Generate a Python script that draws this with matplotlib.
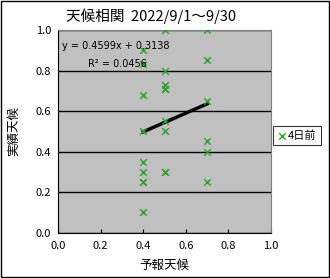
import matplotlib
matplotlib.use('Agg')
import matplotlib.pyplot as plt
import numpy as np

plt.rcParams['font.family'] = ['Noto Sans CJK JP', 'DejaVu Sans']

# 予報天候(4日前) と 実績天候
forecast = [0.4, 0.4, 0.4, 0.4, 0.4, 0.4, 0.4, 0.4, 0.4,
            0.5, 0.5, 0.5, 0.5, 0.5, 0.5, 0.5, 0.5, 0.5,
            0.7, 0.7, 0.7, 0.7, 0.7, 0.7]
actual = [0.9, 0.83, 0.68, 0.5, 0.35, 0.3, 0.25, 0.25, 0.1,
          1.0, 0.8, 0.73, 0.71, 0.71, 0.55, 0.5, 0.3, 0.3,
          1.0, 0.85, 0.65, 0.45, 0.4, 0.25]
slope, intercept = 0.4599, 0.3138
r2 = 0.0456
ticks = [0.0, 0.2, 0.4, 0.6, 0.8, 1.0]

fig = plt.figure(figsize=(3.3, 2.78), dpi=100)
ax = fig.add_axes([0.176, 0.163, 0.645, 0.729])
ax.set_facecolor('#C0C0C0')

ax.scatter(forecast, actual, marker='x', color='#2A9F2A', s=22, linewidths=1.0,
           zorder=3, label='4日前')

# 近似直線
xl = np.array([min(forecast), max(forecast)])
ax.plot(xl, slope * xl + intercept, color='black', lw=2.5, zorder=2)

ax.text(0.02, 0.92, 'y = %.4fx + %.4f' % (slope, intercept),
        fontsize=7, family='Liberation Sans Narrow', va='center')
ax.text(0.14, 0.83, 'R² = %.4f' % r2, fontsize=7,
        family='Liberation Sans Narrow', va='center')

ax.set_xlim(0, 1)
ax.set_ylim(0, 1)
ax.set_xticks(ticks)
ax.set_yticks(ticks)
ax.set_xticklabels(['%.1f' % t for t in ticks])
ax.set_yticklabels(['%.1f' % t for t in ticks])
ax.tick_params(direction='in', length=3, labelsize=8)
ax.tick_params(axis='x', pad=6)
ax.tick_params(axis='y', pad=5)
ax.grid(axis='y', color='black', lw=1)
ax.set_axisbelow(True)
for s in ['top', 'right']:
    ax.spines[s].set_color('#808080')
    ax.spines[s].set_linewidth(0.8)

fig.text(0.457, 0.94, '天候相関  2022/9/1～9/30', fontsize=10.5, ha='center', va='center')
ax.set_xlabel('予報天候', fontsize=9, labelpad=6)
ax.set_ylabel('実績天候', fontsize=9, labelpad=11)

leg = ax.legend(loc='center left', bbox_to_anchor=(1.0, 0.48), fontsize=8,
                frameon=True, fancybox=False, edgecolor='black', handlelength=0.8,
                handletextpad=0.1, borderpad=0.4, borderaxespad=0.2)
leg.get_frame().set_linewidth(0.8)

fig.patches.append(plt.Rectangle((0.002, 0.002), 0.995, 0.995, transform=fig.transFigure,
                                 fill=False, edgecolor='black', lw=1))

fig.savefig('out.png', dpi=100)
